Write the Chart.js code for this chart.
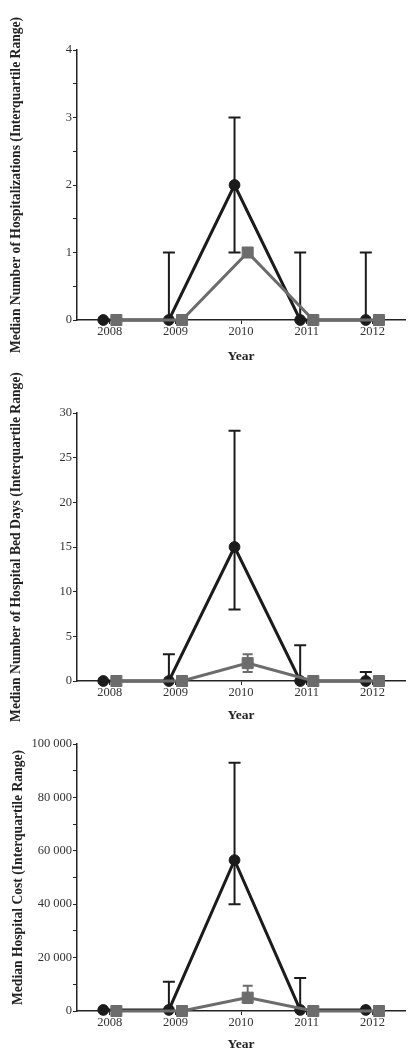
<!DOCTYPE html>
<html>
<head>
<meta charset="utf-8">
<script src="https://cdn.jsdelivr.net/npm/chart.js@4/dist/chart.umd.min.js"></script>
<style>
  html, body { margin:0; padding:0; background:#fff; }
  #wrap { position:relative; width:412px; height:1050px; overflow:hidden; }
  canvas { position:absolute; left:0; }
</style>
</head>
<body>
<div id="wrap">
  <canvas id="c1"></canvas>
  <canvas id="c2"></canvas>
  <canvas id="c3"></canvas>
</div>
<script>
// ---- data
const years = ['2008', '2009', '2010', '2011', '2012'];

// hospitalizations
const hospBlackMed = [0, 0, 2, 0, 0];
const hospBlackQ1  = [0, 0, 1, 0, 0];
const hospBlackQ3  = [0, 1, 3, 1, 1];
const hospGrayMed  = [0, 0, 1, 0, 0];
const hospGrayQ1   = [0, 0, 1, 0, 0];
const hospGrayQ3   = [0, 0, 1, 0, 0];

// hospital bed days
const bedBlackMed = [0, 0, 15, 0, 0];
const bedBlackQ1  = [0, 0, 8, 0, 0];
const bedBlackQ3  = [0, 3, 28, 4, 1];
const bedGrayMed  = [0, 0, 2, 0, 0];
const bedGrayQ1   = [0, 0, 1, 0, 0];
const bedGrayQ3   = [0, 0, 3, 0, 0];

// hospital cost
const costBlackMed = [400, 400, 56500, 400, 400];
const costBlackQ1  = [400, 400, 40000, 400, 400];
const costBlackQ3  = [400, 11000, 93000, 12400, 400];
const costGrayMed  = [0, 0, 5000, 0, 0];
const costGrayQ1   = [0, 0, 3000, 0, 0];
const costGrayQ3   = [0, 0, 9500, 0, 0];

const BLACK = '#1b1b1b', GRAY = '#6c6c6c', AXIS = '#222';
const FONT = "'Liberation Serif', 'Times New Roman', serif";
const SHIFT = 0.1; // black a bit left of the year, gray a bit right

const pts = (arr, dx) => arr.map((v, i) => ({x: i + dx, y: v}));
const fmtK = v => String(v).replace(/\B(?=(\d{3})+(?!\d))/g, ' ');

// IQR bars under the markers
const iqrBars = {
  id: 'iqrBars',
  beforeDatasetsDraw(chart){
    const {ctx, scales:{x, y}} = chart;
    ctx.save();
    chart.data.datasets.forEach(ds => {
      if(!ds.q1) return;
      ctx.strokeStyle = ds.borderColor;
      ctx.lineWidth = 2;
      ds.data.forEach((p, i) => {
        const lo = ds.q1[i], hi = ds.q3[i];
        if(lo === p.y && hi === p.y) return;
        const px = x.getPixelForValue(p.x);
        const yl = y.getPixelForValue(lo), yh = y.getPixelForValue(hi);
        const cap = ds.capHalf;
        ctx.beginPath();
        ctx.moveTo(px, yl); ctx.lineTo(px, yh);
        if(hi !== p.y){ ctx.moveTo(px - cap, yh); ctx.lineTo(px + cap, yh); }
        if(lo !== p.y){ ctx.moveTo(px - cap, yl); ctx.lineTo(px + cap, yl); }
        ctx.stroke();
      });
    });
    ctx.restore();
  }
};

function makePanel(id, p){
  const cv = document.getElementById(id);
  cv.width = 414; cv.height = p.h;
  cv.style.top = p.top + 'px';
  cv.style.width = '414px'; cv.style.height = p.h + 'px';
  return new Chart(cv, {
    type: 'line',
    data: {
      datasets: [
        { data: pts(p.blackMed, -SHIFT), q1: p.blackQ1, q3: p.blackQ3, capHalf: 6,
          borderColor: BLACK, backgroundColor: BLACK, borderWidth: 3,
          pointStyle: 'circle', pointRadius: 5.4, pointBorderWidth: 1,
          pointBackgroundColor: BLACK, pointBorderColor: BLACK, order: 2, clip: false },
        { data: pts(p.grayMed, SHIFT), q1: p.grayQ1, q3: p.grayQ3, capHalf: 5,
          borderColor: GRAY, backgroundColor: GRAY, borderWidth: 3,
          pointStyle: 'rect', pointRadius: 7.8, pointBorderWidth: 1,
          pointBackgroundColor: GRAY, pointBorderColor: GRAY, order: 1, clip: false }
      ]
    },
    options: {
      responsive: false,
      animation: false,
      events: [],
      layout: { padding: { top: p.padTop, left: 0, right: 0, bottom: 0 } },
      plugins: { legend: { display: false }, tooltip: { enabled: false } },
      scales: {
        x: {
          type: 'linear', min: -0.5, max: 4.5,
          afterBuildTicks: s => { s.ticks = years.map((_, i) => ({value: i})); },
          afterFit: s => { s.height = p.xH; },
          ticks: { autoSkip: false, maxRotation: 0, padding: 0, color: '#333',
                   font: { family: FONT, size: 12.5 }, callback: v => years[v] },
          grid: { drawOnChartArea: false, drawTicks: true, tickLength: 4, color: AXIS, tickWidth: 1 },
          border: { display: true, color: AXIS, width: 1.5 },
          title: { display: true, text: 'Year', color: AXIS, padding: { top: 0, bottom: 0 },
                   font: { family: FONT, size: 13.5, weight: 'bold' } }
        },
        y: {
          min: 0, max: p.yMax,
          afterFit: s => { s.width = 77; },
          ticks: { stepSize: p.step, padding: 1, color: '#333',
                   font: { family: FONT, size: 12.5 }, callback: p.label },
          grid: { drawOnChartArea: false, drawTicks: true, tickLength: 4, color: AXIS, tickWidth: 1 },
          border: { display: true, color: AXIS, width: 1.5 },
          title: { display: true, text: p.yTitle, color: AXIS, padding: { top: p.titleGap, bottom: 0 },
                   font: { family: FONT, size: 13.6, weight: 'bold' } }
        }
      }
    },
    plugins: [iqrBars]
  });
}

makePanel('c1', {
  top: 0, h: 365, padTop: 50, xH: 45, yMax: 4, step: 0.5, titleGap: 8,
  label: v => Number.isInteger(v) ? v : '',
  yTitle: 'Median Number of Hospitalizations (Interquartile Range)',
  blackMed: hospBlackMed, blackQ1: hospBlackQ1, blackQ3: hospBlackQ3,
  grayMed: hospGrayMed, grayQ1: hospGrayQ1, grayQ3: hospGrayQ3
});

makePanel('c2', {
  top: 365, h: 359, padTop: 48, xH: 43, yMax: 30, step: 5, titleGap: 8,
  label: v => v,
  yTitle: 'Median Number of Hospital Bed Days (Interquartile Range)',
  blackMed: bedBlackMed, blackQ1: bedBlackQ1, blackQ3: bedBlackQ3,
  grayMed: bedGrayMed, grayQ1: bedGrayQ1, grayQ3: bedGrayQ3
});

makePanel('c3', {
  top: 724, h: 329, padTop: 20, xH: 42, yMax: 100000, step: 10000, titleGap: 10,
  label: v => (v % 20000 === 0) ? fmtK(v) : '',
  yTitle: 'Median Hospital Cost (Interquartile Range)',
  blackMed: costBlackMed, blackQ1: costBlackQ1, blackQ3: costBlackQ3,
  grayMed: costGrayMed, grayQ1: costGrayQ1, grayQ3: costGrayQ3
});
</script>
</body>
</html>
